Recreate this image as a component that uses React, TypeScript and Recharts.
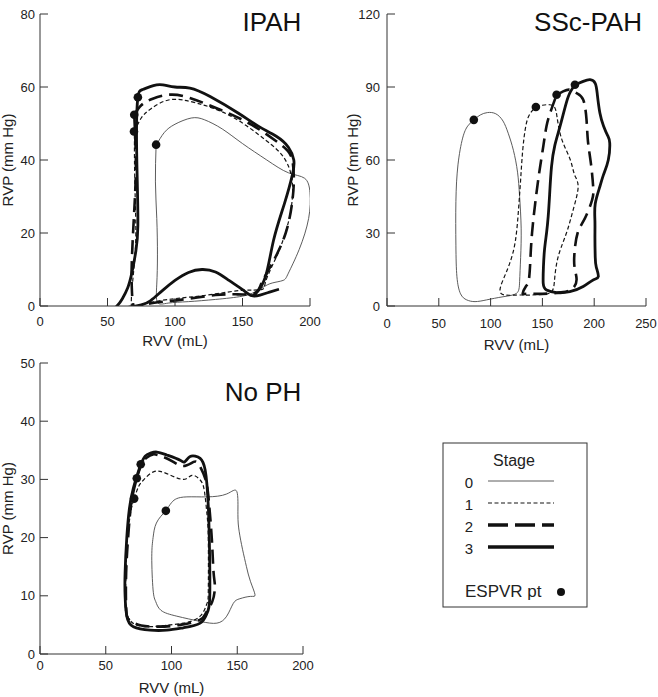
import React from 'react';
import { ComposedChart, Line, Scatter, XAxis, YAxis, Label } from 'recharts';

type Pt = [number, number];

// stage labels + line looks (0 thin, 1 short dash, 2 long dash, 3 thick)
const stageLabels = ['0', '1', '2', '3'];
const stageStyles = [
  { stroke: '#4a4a4a', strokeWidth: 0.9 },
  { stroke: '#151515', strokeWidth: 1.2, strokeDasharray: '4 2.5' },
  { stroke: '#111111', strokeWidth: 2.6, strokeDasharray: '14 7' },
  { stroke: '#111111', strokeWidth: 2.8 },
];

// ---- IPAH (RVV mL, RVP mm Hg) ----
const ipahStage0: Pt[] = [
  [86, 44], [92, 47.5], [100, 49.8], [112, 51.5], [122, 51], [135, 48.5], [150, 44.5], [168, 40],
  [184, 36.5], [196, 35], [200, 31], [199, 24], [192, 15.5], [184, 9], [180, 7], [172, 6.3],
  [166, 5.3], [160, 4], [150, 2.7], [130, 1.8], [110, 1.2], [95, 0.8], [87, 1], [86.5, 6],
  [87, 14], [86.5, 24], [85.5, 34], [86, 44],
];
const ipahStage1: Pt[] = [
  [70, 47.8], [75, 51.5], [82, 54], [96, 56.5], [116, 55.6], [142, 51.9], [167, 45.5], [180, 41],
  [186, 36], [187, 30], [184, 23], [178, 16], [172, 11], [167, 6.5], [164, 4.5], [150, 4.3],
  [130, 3.3], [110, 2.4], [95, 1.8], [82, 1], [72, 0], [68, -0.8], [68, 4], [70, 12], [71, 20],
  [70.5, 30], [70, 40], [70, 47.8],
];
const ipahStage2: Pt[] = [
  [69.8, 52.4], [75, 55], [83.5, 56.8], [96, 57.9], [111, 57], [134, 53.7], [157, 49.6], [177, 44.6],
  [186, 41], [188, 35.5], [187, 29], [182, 20], [172, 11.7], [164, 6.2], [159, 3.5], [145, 3.2],
  [130, 3], [110, 2], [92, 1.2], [78, 0.3], [70, -0.5], [68, 5], [68, 12], [69.5, 24], [71, 38],
  [69.8, 52.4],
];
const ipahStage3: Pt[] = [
  [177, 4.6], [170, 3.8], [163, 3], [157, 2.8], [150, 4.5], [140, 7], [130, 9.3], [120, 10],
  [110, 9.2], [100, 7], [90, 4], [82, 1.5], [75, 0.3], [66, -0.3], [58, -1], [53, -1.5], [57, 0],
  [61, 2], [65, 5], [68, 9], [71, 15], [72.5, 22], [72, 35], [71.5, 48], [72.5, 57.2], [76, 59.3],
  [84, 60.4], [91, 60.6], [100, 60], [111, 59.7], [126, 57.4], [147, 52.8], [162, 49.2],
  [175, 46.5], [184, 43.5], [188, 40], [187, 36], [181, 28], [173, 18], [167, 8], [160, 3.5],
  [157, 2.8],
];
const ipahEspvr: Pt[] = [[86, 44.2], [69.6, 47.8], [69.8, 52.4], [72.5, 57.2]];

// ---- SSc-PAH ----
const sscStage0: Pt[] = [
  [83.8, 76.5], [90, 78.5], [97, 79.5], [105, 79], [112, 76], [117, 71], [122, 64], [126, 55],
  [128, 45], [129.5, 32], [129, 20], [128, 10], [125, 5.2], [112, 3.8], [96, 2.5], [85, 1.8],
  [77, 2.5], [71, 5], [67.5, 12], [66.5, 25], [66.5, 43], [68.5, 58], [73, 69], [78, 74],
  [83.8, 76.5],
];
const sscStage1: Pt[] = [
  [143.7, 81.8], [150, 82.5], [157, 82.7], [162, 81.5], [164, 78], [166, 73], [170, 67], [177, 60],
  [181, 54], [184.5, 49], [180, 40], [174, 31], [168, 24], [164, 18], [162, 12], [161, 8],
  [158, 5.5], [150, 4.8], [138, 4.5], [124, 4.5], [110, 5.2], [112, 10.7], [118.5, 17.6],
  [124, 27], [127, 40], [129, 52], [131, 64], [134, 74], [138, 79], [143.7, 81.8],
];
const sscStage2: Pt[] = [
  [163.7, 86.8], [170, 88.2], [176.5, 88.9], [183, 87.5], [189.4, 84.8], [192.6, 76.5], [194, 67.6],
  [197, 58], [199, 49], [198, 43.6], [191, 36], [184, 30], [181, 22], [181, 16], [183, 11],
  [180, 7.5], [170, 5.7], [150, 5], [135, 5], [131, 5.2], [134, 8], [137, 11], [138.5, 20],
  [140, 30], [143, 42], [147, 55], [151, 66], [154, 74], [158, 80], [163.7, 86.8],
];
const sscStage3: Pt[] = [
  [181.4, 90.9], [189.4, 92.3], [196, 93], [201, 91.5], [203, 87], [205.5, 79.3], [209, 74],
  [213, 70], [215, 67], [213.6, 60], [209, 54], [205.5, 49.1], [201, 42], [200.7, 35], [200.7, 28],
  [201, 20], [202, 16], [204, 12.1], [199, 10.7], [189.4, 8], [176.5, 5.9], [163.7, 5.5],
  [154, 6.6], [150.8, 9.3], [151, 16], [152, 23], [154, 30], [155.6, 36.8], [157, 46],
  [158.8, 57.3], [162, 66], [167, 73.8], [173, 83.4], [177, 88], [181.4, 90.9],
];
const sscEspvr: Pt[] = [[83.8, 76.5], [143.7, 81.8], [163.7, 86.8], [181.4, 90.9]];

// ---- No PH ----
const noPhStage0: Pt[] = [
  [95.7, 24.6], [100, 26], [104, 26.7], [111.7, 27], [127, 27], [142, 27.5], [149.7, 27.9],
  [150.5, 24], [151.5, 21], [154, 18], [157, 15], [160, 12.5], [163.5, 10.2], [160, 9.9],
  [152, 9.5], [147, 8.7], [142, 6.5], [134.5, 5.3], [121.8, 5.6], [104, 6.5], [92, 7.5],
  [88, 9], [86, 11], [85, 16.7], [86, 20], [88.5, 22.5], [95.7, 24.6],
];
const noPhStage1: Pt[] = [
  [71.6, 26.7], [75, 28.8], [78.7, 29.9], [86.3, 31.3], [96.4, 31], [109, 30], [115.5, 30.7],
  [121.8, 29.9], [125, 28], [127, 24], [128, 19.6], [128, 11], [127, 8.7], [121.8, 6.5],
  [109, 5.3], [95, 4.9], [83.8, 4.7], [72, 5.1], [66.5, 6.5], [64.7, 8.2], [65.3, 13], [66, 18],
  [67.5, 22], [69.5, 25], [71.6, 26.7],
];
const noPhStage2: Pt[] = [
  [73.6, 30.2], [77, 32.5], [81, 33.7], [86, 34.3], [92, 34], [100, 33.2], [109, 32.3],
  [116.8, 33], [121, 32.5], [126, 29.9], [128.5, 26], [130.7, 19.6], [132, 14], [133, 11.6],
  [131, 9], [126, 7], [121.8, 5.9], [106.6, 5], [90, 4.7], [77, 4.9], [68, 5.8], [65.5, 8],
  [65.5, 13.9], [67, 20], [69.5, 26], [73.6, 30.2],
];
const noPhStage3: Pt[] = [
  [76.6, 32.6], [80, 34], [83.8, 34.5], [88.8, 34.7], [96.4, 34.2], [106.6, 33.3], [110, 33],
  [114, 33.9], [118, 34], [121.8, 33.6], [125.6, 31.6], [128, 25.3], [129, 16.7], [129, 9.3],
  [127, 7], [121.8, 5.3], [109, 4.5], [96.4, 4.1], [83.8, 4.1], [71, 4.7], [66, 6.5], [64.7, 10],
  [64.7, 13.9], [66, 20], [68, 25], [71, 28.5], [76.6, 32.6],
];
const noPhEspvr: Pt[] = [[95.7, 24.6], [71.6, 26.7], [73.6, 30.2], [76.6, 32.6]];

const xTicks200 = [0, 50, 100, 150, 200];
const xTicks250 = [0, 50, 100, 150, 200, 250];
const yTicksIpah = [0, 20, 40, 60, 80];
const yTicksSsc = [0, 30, 60, 90, 120];
const yTicksNoPh = [0, 10, 20, 30, 40, 50];

const titles = ['IPAH', 'SSc-PAH', 'No PH'];
const FONT = '"Liberation Sans", Arial, sans-serif';
const INK = '#222';

const toRows = (pts: Pt[]) => pts.map(([v, p]) => ({ v, p }));

const Dot = (props: any) => <circle cx={props.cx} cy={props.cy} r={4.3} fill="#111" />;

const LoopPanel = (props: any) => {
  const { left, top, width, height, margin, yWidth, xHeight, xDomain, yDomain, xTicks, yTicks,
    loops, espvr, xTickMargin, yTickMargin, yLabelOffset, xLabelOffset } = props;
  return (
    <div style={{ position: 'absolute', left, top }}>
      <ComposedChart width={width} height={height} margin={margin}>
        <XAxis
          type="number"
          dataKey="v"
          domain={xDomain}
          ticks={xTicks}
          interval={0}
          allowDataOverflow
          height={xHeight}
          tickSize={-8}
          tickMargin={xTickMargin}
          stroke="#333"
          tick={{ fontSize: 13, fill: INK, fontFamily: FONT }}
        >
          <Label value="RVV (mL)" position="insideBottom" offset={xLabelOffset}
            style={{ fontSize: 15, fill: INK, fontFamily: FONT }} />
        </XAxis>
        <YAxis
          type="number"
          dataKey="p"
          domain={yDomain}
          ticks={yTicks}
          interval={0}
          allowDataOverflow
          width={yWidth}
          tickSize={-8}
          tickMargin={yTickMargin}
          stroke="#333"
          tick={{ fontSize: 13, fill: INK, fontFamily: FONT }}
        >
          <Label value="RVP (mm Hg)" angle={-90} position="insideLeft" offset={yLabelOffset}
            style={{ textAnchor: 'middle', fontSize: 15, fill: INK, fontFamily: FONT }} />
        </YAxis>
        {loops.map((pts: Pt[], i: number) => (
          <Line
            key={i}
            data={toRows(pts)}
            dataKey="p"
            type="natural"
            dot={false}
            activeDot={false}
            isAnimationActive={false}
            {...stageStyles[i]}
          />
        ))}
        <Scatter data={toRows(espvr)} fill="#111" shape={Dot} isAnimationActive={false} />
      </ComposedChart>
    </div>
  );
};

export default function App() {
  return (
    <div style={{ position: 'absolute', left: 0, top: 0, width: 658, height: 697, background: '#fff', fontFamily: FONT }}>
      <LoopPanel
        left={0} top={0} width={330} height={360}
        margin={{ top: 14, right: 20, bottom: 0, left: 0 }}
        yWidth={40} xHeight={54}
        xDomain={[0, 200]} yDomain={[0, 80]} xTicks={xTicks200} yTicks={yTicksIpah}
        loops={[ipahStage0, ipahStage1, ipahStage2, ipahStage3]} espvr={ipahEspvr}
        xTickMargin={19} yTickMargin={13} yLabelOffset={8} xLabelOffset={14}
      />
      <LoopPanel
        left={330} top={0} width={328} height={360}
        margin={{ top: 14, right: 12, bottom: 0, left: 0 }}
        yWidth={57} xHeight={54}
        xDomain={[0, 250]} yDomain={[0, 120]} xTicks={xTicks250} yTicks={yTicksSsc}
        loops={[sscStage0, sscStage1, sscStage2, sscStage3]} espvr={sscEspvr}
        xTickMargin={21} yTickMargin={15} yLabelOffset={23} xLabelOffset={10}
      />
      <LoopPanel
        left={0} top={340} width={330} height={357}
        margin={{ top: 23, right: 27, bottom: 0, left: 0 }}
        yWidth={40} xHeight={43}
        xDomain={[0, 200]} yDomain={[0, 50]} xTicks={xTicks200} yTicks={yTicksNoPh}
        loops={[noPhStage0, noPhStage1, noPhStage2, noPhStage3]} espvr={noPhEspvr}
        xTickMargin={15} yTickMargin={13} yLabelOffset={8} xLabelOffset={4}
      />
      <svg width={658} height={697} style={{ position: 'absolute', left: 0, top: 0, pointerEvents: 'none' }}>
        <g fontFamily={FONT} fill="#111">
          <text x={272} y={31} fontSize={26} textAnchor="middle">{titles[0]}</text>
          <text x={588} y={31} fontSize={26} textAnchor="middle">{titles[1]}</text>
          <text x={263} y={401} fontSize={26} textAnchor="middle">{titles[2]}</text>
        </g>
        <rect x={443} y={443} width={144} height={164} fill="none" stroke="#333" strokeWidth={1} />
        <text x={514} y={466} fontSize={16} textAnchor="middle" fontFamily={FONT} fill={INK}>Stage</text>
        {stageLabels.map((s, i) => {
          const y = 481 + i * 22;
          return (
            <g key={s}>
              <text x={469} y={y + 7} fontSize={15} textAnchor="middle" fontFamily={FONT} fill={INK}>{s}</text>
              <line x1={488} x2={554} y1={y} y2={y} {...stageStyles[i]}
                strokeWidth={i >= 2 ? 3.6 : stageStyles[i].strokeWidth}
                strokeDasharray={i === 2 ? '20 7' : stageStyles[i].strokeDasharray} />
            </g>
          );
        })}
        <text x={465} y={597} fontSize={17} fontFamily={FONT} fill={INK}>ESPVR pt</text>
        <circle cx={561} cy={592} r={4} fill="#111" />
      </svg>
    </div>
  );
}
